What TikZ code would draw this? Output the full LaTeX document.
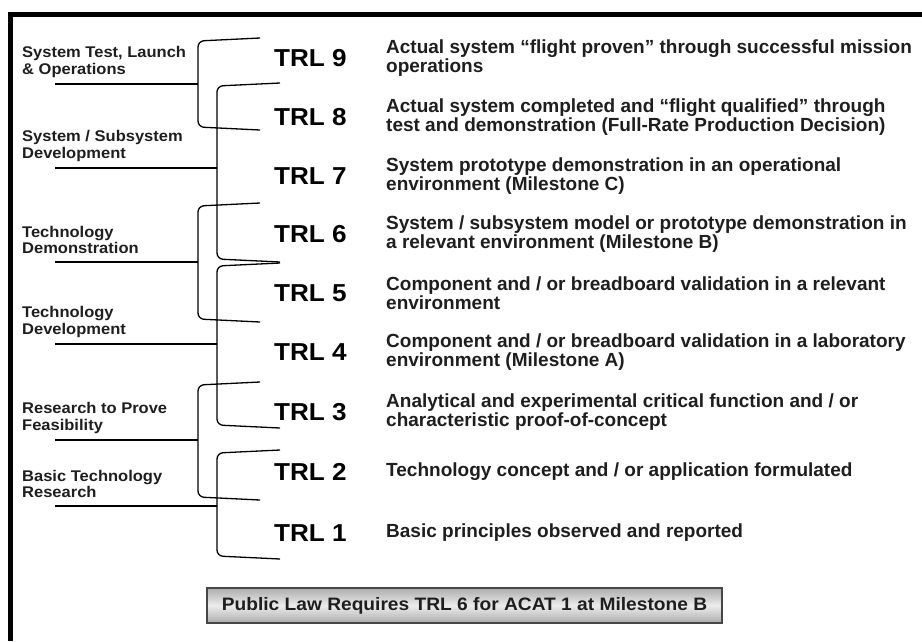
\documentclass[tikz,border=0pt]{standalone}
\usepackage{fontspec}
\setmainfont{Liberation Sans}
\newfontfamily\widesans{Liberation Sans}[FakeStretch=1.065]
\definecolor{ink}{HTML}{1E1E1E}
\tikzset{
  trl/.style={font=\widesans\fontsize{24.5}{24}\selectfont\bfseries, inner sep=0pt, anchor=west, text=black},
  desc/.style={font=\fontsize{19}{19}\selectfont\bfseries, inner sep=0pt, anchor=west, align=left, text=ink},
  phase/.style={font=\widesans\fontsize{15.5}{16.5}\selectfont\bfseries, inner sep=0pt, anchor=west, align=left, text=ink},
  brace/.style={line width=1.3pt, rounded corners=6pt},
  lawbox/.style={draw=gray!55!black, line width=1.3pt, top color=gray!65, bottom color=gray!65, middle color=gray!15,
    minimum width=515pt, minimum height=35pt, inner sep=0pt, font=\widesans\fontsize{18}{18}\selectfont\bfseries, text=ink}
}
\begin{document}
\begin{tikzpicture}[x=1pt,y=-1pt]
  \useasboundingbox (0,0) rectangle (922,641);
  \draw[line width=5pt] (10,641) -- (10,14) -- (922,14);
  % levels
  \foreach \n/\y/\t in {9/58/{Actual system “flight proven” through successful mission\\operations},
      8/117/{Actual system completed and “flight qualified" through\\test and demonstration (Full-Rate Production Decision)},
      7/176/{System prototype demonstration in an operational\\environment (Milestone C)},
      6/234/{System / subsystem model or prototype demonstration in\\a relevant environment (Milestone B)},
      5/293/{Component and / or breadboard validation in a relevant\\environment},
      4/352/{Component and / or breadboard validation in a laboratory\\environment (Milestone A)},
      3/412/{Analytical and experimental critical function and / or\\characteristic proof-of-concept},
      2/472/{Technology concept and / or application formulated},
      1/533/{Basic principles observed and reported}} {
    \node[trl] (trl\n) at (274,\y) {TRL \n};
    \node[desc] (desc\n) at (386,\y) {\t};
  }
  % phases
  \foreach \i/\bx/\ex/\ta/\tb/\m/\t in {1/198/260/38/130/84/{System Test, Launch\\\& Operations},
      2/217/280/83/262/168/{System / Subsystem\\Development},
      3/198/260/203/322/262/{Technology\\Demonstration},
      4/217/280/263/428/344/{Technology\\Development},
      5/198/260/382/500/440/{Research to Prove\\Feasibility},
      6/217/280/450/559/506/{Basic Technology\\Research}} {
    \draw[brace] (\ex,\ta) -- (\bx,\ta+3) -- (\bx,\tb-3) -- (\ex,\tb);
    \coordinate (join\i) at (\bx,\m);
    \coordinate (tail\i) at (55,\m);
    \node[phase] (phase\i) at (22,\m-22) {\t};
    \draw[line width=1.3pt] (join\i) -- (tail\i);
  }
  \node[lawbox] (law) at (464.5,605.5) {Public Law Requires TRL 6 for ACAT 1 at Milestone B};
\end{tikzpicture}
\end{document}
